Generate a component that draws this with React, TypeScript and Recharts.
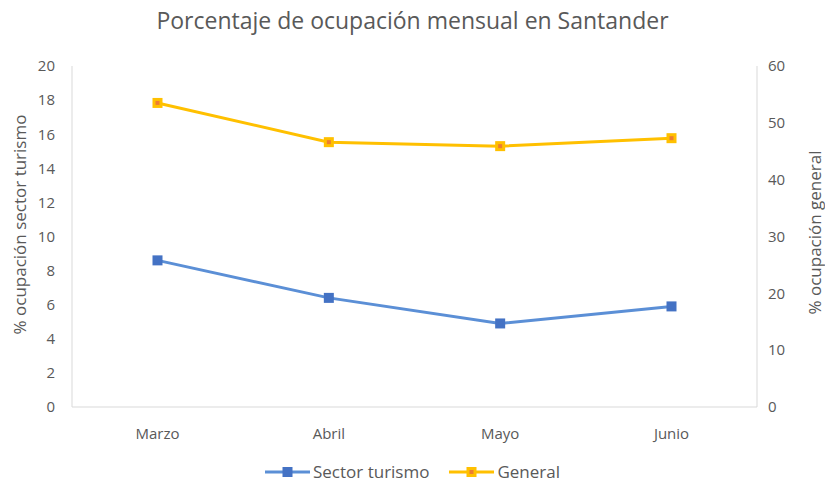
import React from "react";
import {
  LineChart,
  Line,
  XAxis,
  YAxis,
  Legend,
  Label,
} from "recharts";

const months = ["Marzo", "Abril", "Mayo", "Junio"];
const turismo = [8.6, 6.4, 4.9, 5.9];
const general = [53.5, 46.6, 45.9, 47.3];
const leftTicks = [0, 2, 4, 6, 8, 10, 12, 14, 16, 18, 20];
const rightTicks = [0, 10, 20, 30, 40, 50, 60];

const data = months.map((m, i) => ({
  month: m,
  turismo: turismo[i],
  general: general[i],
}));

const FONT = "'Open Sans', 'Noto Sans', sans-serif";
const TEXT = "#595959";
const AXIS = "#d9d9d9";
const BLUE_LINE = "#5b8fd6";
const BLUE_MARK = "#4472c4";
const ORANGE_LINE = "#ffc000";
const ORANGE_MARK = "#ed7d31";

const SquareDot = (fill: string, inner: string) => (props: any) => {
  const { cx, cy, index } = props;
  if (cx == null || cy == null) return null;
  return (
    <g key={index}>
      <rect x={cx - 5} y={cy - 5} width={10} height={10} fill={fill} />
      <rect x={cx - 2} y={cy - 2} width={4} height={4} fill={inner} />
    </g>
  );
};

const SideLabel = (text: string, side: "left" | "right", size: number, shift: number) => (props: any) => {
  const vb = props.viewBox || {};
  const cy = vb.y + vb.height / 2 + shift;
  const cx = side === "left" ? 19 : 814;
  return (
    <text
      x={cx}
      y={cy}
      transform={`rotate(-90 ${cx} ${cy})`}
      textAnchor="middle"
      dominantBaseline="central"
      fill={TEXT}
      fontSize={size}
      fontFamily={FONT}
    >
      {text}
    </text>
  );
};

const LegendContent = () => {
  const items = [
    { name: "Sector turismo", line: BLUE_LINE, mark: BLUE_MARK, inner: BLUE_MARK },
    { name: "General", line: ORANGE_LINE, mark: ORANGE_LINE, inner: ORANGE_MARK },
  ];
  return (
    <div
      style={{
        height: 30,
        display: "flex",
        justifyContent: "center",
        alignItems: "flex-end",
        gap: 20,
        fontFamily: FONT,
        fontSize: 17,
        color: TEXT,
      }}
    >
      {items.map((it) => (
        <div key={it.name} style={{ display: "flex", alignItems: "center", gap: 3 }}>
          <svg width={45} height={12}>
            <line x1={0} y1={6} x2={45} y2={6} stroke={it.line} strokeWidth={3} />
            <rect x={17.5} y={1} width={10} height={10} fill={it.mark} />
            <rect x={20.5} y={4} width={4} height={4} fill={it.inner} />
          </svg>
          <span>{it.name}</span>
        </div>
      ))}
    </div>
  );
};

export default function App() {
  return (
    <div
      style={{
        position: "absolute",
        left: 0,
        top: 0,
        width: 825,
        height: 483,
        background: "#fff",
        fontFamily: FONT,
      }}
    >
      <div
        style={{
          position: "absolute",
          top: 4,
          left: 0,
          width: 825,
          textAlign: "center",
          fontSize: 23,
          color: TEXT,
        }}
      >
        Porcentaje de ocupación mensual en Santander
      </div>
      <LineChart
        width={825}
        height={483}
        data={data}
        margin={{ top: 66, right: 0, bottom: 0, left: 0 }}
      >
        <XAxis
          dataKey="month"
          stroke={AXIS}
          tickLine={false}
          tickSize={0}
          tickMargin={21}
          height={46}
          padding={{ left: 85.5, right: 85.5 }}
          tick={{ fill: TEXT, fontSize: 15, fontFamily: FONT }}
        />
        <YAxis
          yAxisId="left"
          domain={[0, 20]}
          ticks={leftTicks}
          width={72}
          stroke={AXIS}
          tickLine={false}
          tickSize={0}
          tickMargin={17}
          tick={{ fill: TEXT, fontSize: 15, fontFamily: FONT }}
        >
          <Label content={SideLabel("% ocupación sector turismo", "left", 17, -12)} />
        </YAxis>
        <YAxis
          yAxisId="right"
          orientation="right"
          domain={[0, 60]}
          ticks={rightTicks}
          width={68}
          stroke={AXIS}
          tickLine={false}
          tickSize={0}
          tickMargin={11}
          tick={{ fill: TEXT, fontSize: 15, fontFamily: FONT, textAnchor: "start" }}
        >
          <Label content={SideLabel("% ocupación general", "right", 17, -4)} />
        </YAxis>
        <Legend verticalAlign="bottom" height={30} content={<LegendContent />} />
        <Line
          yAxisId="left"
          dataKey="turismo"
          name="Sector turismo"
          stroke={BLUE_LINE}
          strokeWidth={3}
          dot={SquareDot(BLUE_MARK, BLUE_MARK)}
          activeDot={false}
          isAnimationActive={false}
        />
        <Line
          yAxisId="right"
          dataKey="general"
          name="General"
          stroke={ORANGE_LINE}
          strokeWidth={3}
          dot={SquareDot(ORANGE_LINE, ORANGE_MARK)}
          activeDot={false}
          isAnimationActive={false}
        />
      </LineChart>
    </div>
  );
}
